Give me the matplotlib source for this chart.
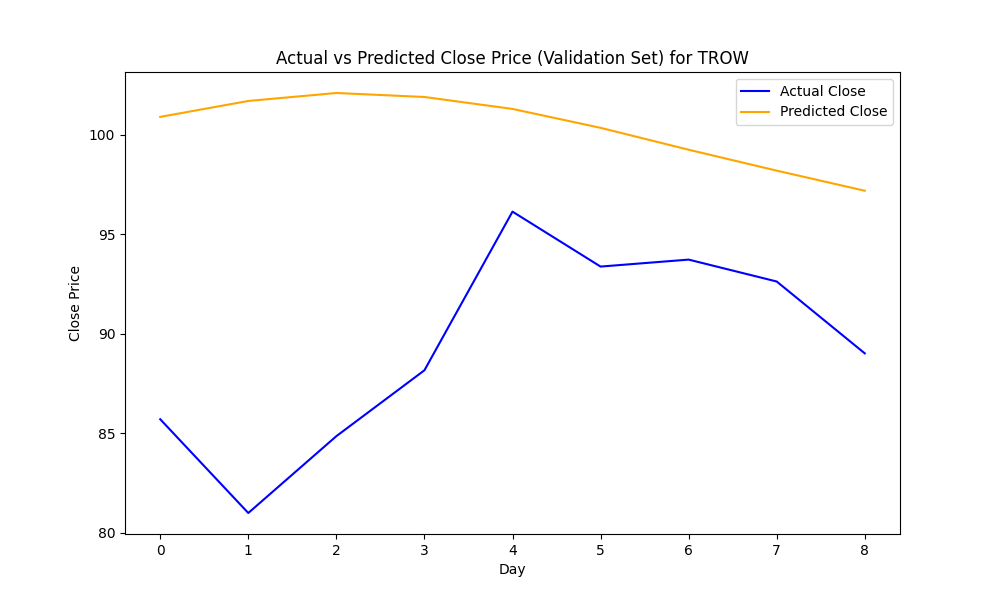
import matplotlib
matplotlib.use("Agg")
import matplotlib.pyplot as plt

# values
days = [0, 1, 2, 3, 4, 5, 6, 7, 8]
actual_close = [85.71, 81.0, 84.86, 88.17, 96.14, 93.38, 93.73, 92.63, 89.02]
predicted_close = [100.90, 101.70, 102.10, 101.90, 101.30, 100.35, 99.25, 98.20, 97.19]

fig, ax = plt.subplots(figsize=(10, 6), dpi=100)
ax.plot(days, actual_close, color='blue', label='Actual Close')
ax.plot(days, predicted_close, color='orange', label='Predicted Close')
ax.set_xlabel('Day')
ax.set_ylabel('Close Price')
ax.set_title('Actual vs Predicted Close Price (Validation Set) for TROW')
ax.legend()
fig.savefig('out.png')
